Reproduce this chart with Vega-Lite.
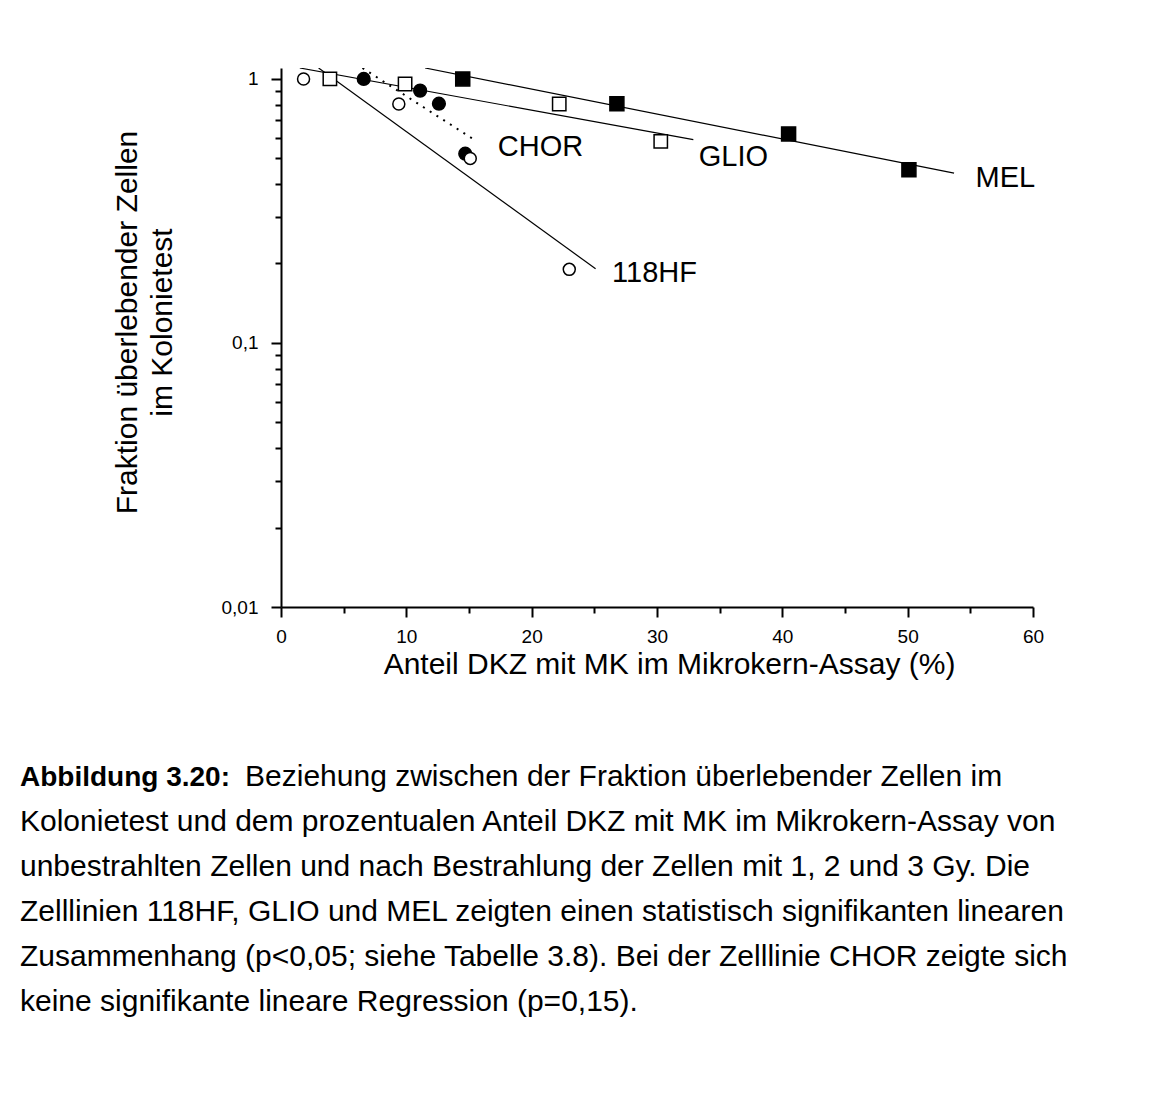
{
  "$schema": "https://vega.github.io/schema/vega-lite/v6.json",
  "width": 752,
  "height": 539,
  "autosize": {"type": "none"},
  "padding": {"left": 281, "top": 68, "right": 127, "bottom": 504},
  "background": "white",
  "config": {
    "view": {"stroke": null},
    "font": "Liberation Sans",
    "axis": {
      "grid": false,
      "domainColor": "black",
      "domainWidth": 2,
      "tickColor": "black",
      "tickWidth": 2,
      "labelColor": "black",
      "labelFont": "Liberation Sans",
      "labelFontSize": 19,
      "titleColor": "black",
      "titleFont": "Liberation Sans",
      "titleFontSize": 30,
      "titleFontWeight": "normal"
    }
  },
  "title": {
    "text": "Abbildung 3.20:",
    "subtitle": [
      "\u200b\u00a0\u00a0\u00a0\u00a0\u00a0\u00a0\u00a0\u00a0\u00a0\u00a0\u00a0\u00a0\u00a0\u00a0\u00a0\u00a0\u00a0\u00a0\u00a0\u00a0\u00a0\u00a0\u00a0\u00a0\u00a0\u00a0\u00a0Beziehung zwischen der Fraktion überlebender Zellen im",
      "Kolonietest und dem prozentualen Anteil DKZ mit MK im Mikrokern-Assay von",
      "unbestrahlten Zellen und nach Bestrahlung der Zellen mit 1, 2 und 3 Gy. Die",
      "Zelllinien 118HF, GLIO und MEL zeigten einen statistisch signifikanten linearen",
      "Zusammenhang (p<0,05; siehe Tabelle 3.8). Bei der Zelllinie CHOR zeigte sich",
      "keine signifikante lineare Regression (p=0,15)."
    ],
    "orient": "bottom",
    "anchor": "start",
    "frame": "group",
    "dx": -261,
    "offset": 85,
    "font": "Liberation Sans",
    "fontSize": 28,
    "fontWeight": "bold",
    "color": "black",
    "subtitleFont": "Liberation Sans",
    "subtitleFontSize": 30,
    "subtitleFontWeight": "normal",
    "subtitleColor": "black",
    "subtitleLineHeight": 45,
    "subtitlePadding": -30
  },
  "datasets": {
    "points": [
      {"series": "MEL", "x": 14.5, "y": 1.0},
      {"series": "MEL", "x": 26.8, "y": 0.806},
      {"series": "MEL", "x": 40.5, "y": 0.619},
      {"series": "MEL", "x": 50.1, "y": 0.453},
      {"series": "GLIO", "x": 3.9, "y": 1.0},
      {"series": "GLIO", "x": 9.9, "y": 0.957},
      {"series": "GLIO", "x": 22.2, "y": 0.804},
      {"series": "GLIO", "x": 30.3, "y": 0.58},
      {"series": "CHOR", "x": 6.6, "y": 1.0},
      {"series": "CHOR", "x": 11.1, "y": 0.903},
      {"series": "CHOR", "x": 12.6, "y": 0.806},
      {"series": "CHOR", "x": 14.7, "y": 0.521},
      {"series": "118HF", "x": 1.8, "y": 1.0},
      {"series": "118HF", "x": 9.4, "y": 0.804},
      {"series": "118HF", "x": 15.1, "y": 0.5},
      {"series": "118HF", "x": 23.0, "y": 0.19}
    ],
    "fits": [
      {"series": "MEL", "x": 11.5, "y": 1.1},
      {"series": "MEL", "x": 53.7, "y": 0.44},
      {"series": "GLIO", "x": 1.5, "y": 1.1},
      {"series": "GLIO", "x": 32.9, "y": 0.589},
      {"series": "118HF", "x": 3.0, "y": 1.1},
      {"series": "118HF", "x": 25.1, "y": 0.191},
      {"series": "CHOR", "x": 6.5, "y": 1.1},
      {"series": "CHOR", "x": 15.4, "y": 0.589}
    ],
    "labels": [
      {"label": "CHOR", "x": 20.7, "y": 0.55},
      {"label": "GLIO", "x": 36.1, "y": 0.505},
      {"label": "MEL", "x": 57.8, "y": 0.42},
      {"label": "118HF", "x": 29.8, "y": 0.184}
    ]
  },
  "encoding": {
    "x": {
      "field": "x",
      "type": "quantitative",
      "scale": {"domain": [0, 60], "nice": false, "zero": false},
      "axis": {
        "values": [0, 5, 10, 15, 20, 25, 30, 35, 40, 45, 50, 55, 60],
        "labelExpr": "datum.value % 10 === 0 ? datum.label : ''",
        "tickSize": {"condition": {"test": "datum.value % 10 === 0", "value": 10}, "value": 6},
        "labelPadding": 10,
        "labelFlush": false,
        "labelOverlap": false,
        "title": "Anteil DKZ mit MK im Mikrokern-Assay (%)",
        "titlePadding": 3,
        "titleX": 388
      }
    },
    "y": {
      "field": "y",
      "type": "quantitative",
      "scale": {"type": "log", "domain": [0.01, 1.1], "nice": false},
      "axis": {
        "values": [0.01, 0.02, 0.03, 0.04, 0.05, 0.06, 0.07, 0.08, 0.09, 0.1, 0.2, 0.3, 0.4, 0.5, 0.6, 0.7, 0.8, 0.9, 1],
        "labelExpr": "datum.value === 1 ? '1' : datum.value === 0.1 ? '0,1' : datum.value === 0.01 ? '0,01' : ''",
        "tickSize": {"condition": {"test": "datum.value === 1 || datum.value === 0.1 || datum.value === 0.01", "value": 10}, "value": 6},
        "labelPadding": 13,
        "labelFlush": false,
        "labelOverlap": false,
        "title": ["Fraktion überlebender Zellen", "im Kolonietest"],
        "titleLineHeight": 35,
        "titlePadding": 44,
        "titleY": 254
      }
    }
  },
  "layer": [
    {
      "data": {"name": "fits"},
      "transform": [{"filter": "datum.series !== 'CHOR'"}],
      "mark": {"type": "line", "color": "black", "strokeWidth": 1.2, "clip": true},
      "encoding": {"detail": {"field": "series"}}
    },
    {
      "data": {"name": "fits"},
      "transform": [{"filter": "datum.series === 'CHOR'"}],
      "mark": {"type": "line", "color": "black", "strokeWidth": 2, "strokeDash": [2, 6], "clip": true},
      "encoding": {"detail": {"field": "series"}}
    },
    {
      "data": {"name": "points"},
      "mark": {"type": "point", "filled": true, "stroke": "black", "strokeWidth": 1.5, "opacity": 1},
      "encoding": {
        "shape": {"field": "series", "scale": {"domain": ["MEL", "GLIO", "CHOR", "118HF"], "range": ["square", "square", "circle", "circle"]}, "legend": null},
        "fill": {"field": "series", "scale": {"domain": ["MEL", "GLIO", "CHOR", "118HF"], "range": ["black", "white", "black", "white"]}, "legend": null},
        "size": {"field": "series", "type": "nominal", "scale": {"domain": ["MEL", "GLIO", "CHOR", "118HF"], "range": [196, 144, 196, 121]}, "legend": null}
      }
    },
    {
      "data": {"name": "labels"},
      "mark": {"type": "text", "font": "Liberation Sans", "fontSize": 29, "color": "black", "align": "center", "baseline": "middle"},
      "encoding": {"text": {"field": "label"}}
    }
  ]
}
